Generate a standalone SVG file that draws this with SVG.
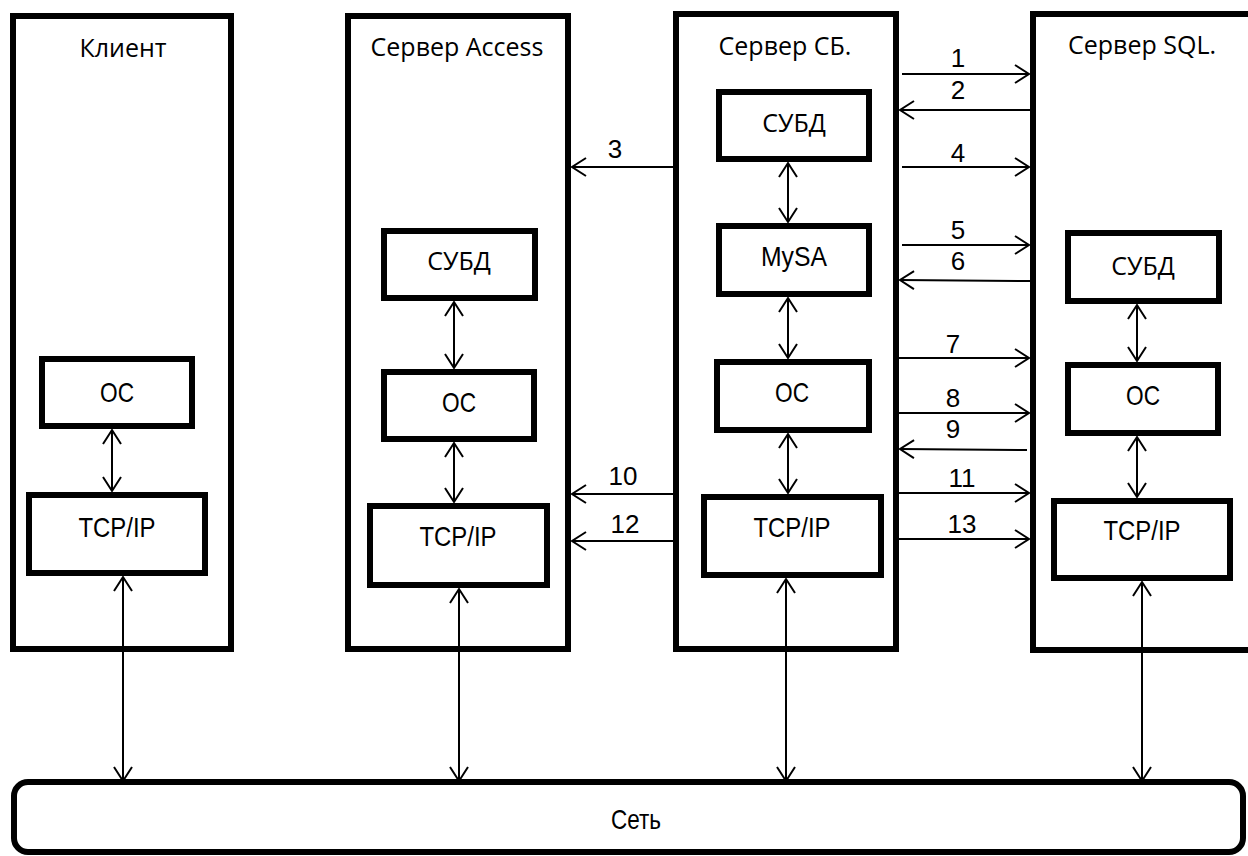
<svg xmlns="http://www.w3.org/2000/svg" width="1248" height="856" viewBox="0 0 1248 856">
<style>
.outer{fill:#fff;stroke:#000;stroke-width:6}
.inner{fill:#fff;stroke:#000;stroke-width:6}
.hdr{font-family:"Open Sans","Noto Sans",sans-serif;font-size:25px;text-anchor:middle;fill:#000}
.cnd{font-family:"Liberation Sans",Arial,sans-serif;font-size:28px;text-anchor:middle;fill:#000}
.num{font-family:"Liberation Sans",Arial,sans-serif;font-size:26px;text-anchor:middle;fill:#000}
.c{fill:none;stroke:#000;stroke-width:2}
.one{marker-end:url(#ah)}
.two{marker-start:url(#ah);marker-end:url(#ah)}
</style>
<defs>
<marker id="ah" viewBox="-16 -11 18 22" refX="0" refY="0" markerWidth="18" markerHeight="22" markerUnits="userSpaceOnUse" orient="auto-start-reverse">
<path d="M-14,-9 L0,0 L-14,9" fill="none" stroke="#000" stroke-width="2"/>
</marker>
</defs>
<rect width="1248" height="856" fill="#fff"/>

<g id="client">
<rect class="outer" x="13" y="16" width="218" height="633"/>
<text class="hdr" x="123" y="57">Клиент</text>
</g>
<g id="client-os">
<rect class="inner" x="42" y="359" width="150" height="67"/>
<text class="cnd" x="117" y="402" textLength="34" lengthAdjust="spacingAndGlyphs">ОС</text>
</g>
<g id="client-tcp">
<rect class="inner" x="29" y="495" width="176" height="78"/>
<text class="cnd" x="117" y="537" textLength="77" lengthAdjust="spacingAndGlyphs">TCP/IP</text>
</g>

<g id="access">
<rect class="outer" x="348" y="16" width="220" height="633"/>
<text class="hdr" x="457" y="56">Сервер Access</text>
</g>
<g id="access-dbms">
<rect class="inner" x="384" y="231" width="151" height="67"/>
<text class="hdr" x="459" y="270">СУБД</text>
</g>
<g id="access-os">
<rect class="inner" x="384" y="372" width="150" height="67"/>
<text class="cnd" x="459" y="412" textLength="34" lengthAdjust="spacingAndGlyphs">ОС</text>
</g>
<g id="access-tcp">
<rect class="inner" x="370" y="506" width="177" height="79"/>
<text class="cnd" x="458" y="546" textLength="77" lengthAdjust="spacingAndGlyphs">TCP/IP</text>
</g>

<g id="sb">
<rect class="outer" x="676" y="14" width="220" height="635"/>
<text class="hdr" x="785" y="55">Сервер СБ.</text>
</g>
<g id="sb-dbms">
<rect class="inner" x="719" y="92" width="150" height="67"/>
<text class="hdr" x="794" y="132">СУБД</text>
</g>
<g id="sb-mysa">
<rect class="inner" x="719" y="226" width="150" height="68"/>
<text class="cnd" x="794" y="266" textLength="66" lengthAdjust="spacingAndGlyphs">MySA</text>
</g>
<g id="sb-os">
<rect class="inner" x="717" y="362" width="152" height="68"/>
<text class="cnd" x="792" y="402" textLength="34" lengthAdjust="spacingAndGlyphs">ОС</text>
</g>
<g id="sb-tcp">
<rect class="inner" x="704" y="497" width="177" height="78"/>
<text class="cnd" x="792" y="537" textLength="77" lengthAdjust="spacingAndGlyphs">TCP/IP</text>
</g>

<g id="sql">
<rect class="outer" x="1033" y="14" width="230" height="636"/>
<text class="hdr" x="1142" y="54">Сервер SQL.</text>
</g>
<g id="sql-dbms">
<rect class="inner" x="1068" y="233" width="151" height="68"/>
<text class="hdr" x="1143" y="275">СУБД</text>
</g>
<g id="sql-os">
<rect class="inner" x="1068" y="365" width="150" height="68"/>
<text class="cnd" x="1143" y="405" textLength="34" lengthAdjust="spacingAndGlyphs">ОС</text>
</g>
<g id="sql-tcp">
<rect class="inner" x="1054" y="501" width="176" height="77"/>
<text class="cnd" x="1142" y="540" textLength="77" lengthAdjust="spacingAndGlyphs">TCP/IP</text>
</g>

<g id="network">
<rect class="outer" x="14" y="782" width="1229" height="70" rx="14" ry="14"/>
<text class="cnd" x="636" y="829" textLength="50" lengthAdjust="spacingAndGlyphs">Сеть</text>
</g>

<g id="connectors">
<line class="c two" x1="112" y1="430" x2="112" y2="491"/>
<line class="c two" x1="123" y1="577" x2="123" y2="781"/>
<line class="c two" x1="454" y1="302" x2="454" y2="368"/>
<line class="c two" x1="454" y1="443" x2="454" y2="502"/>
<line class="c two" x1="459" y1="589" x2="459" y2="781"/>
<line class="c two" x1="788" y1="163" x2="788" y2="222"/>
<line class="c two" x1="788" y1="298" x2="788" y2="358"/>
<line class="c two" x1="788" y1="434" x2="788" y2="493"/>
<line class="c two" x1="786" y1="579" x2="786" y2="781"/>
<line class="c two" x1="1137" y1="305" x2="1137" y2="361"/>
<line class="c two" x1="1137" y1="437" x2="1137" y2="497"/>
<line class="c two" x1="1142" y1="582" x2="1142" y2="781"/>
<line class="c one" x1="902" y1="74" x2="1029" y2="74"/>
<line class="c one" x1="1030" y1="110" x2="900" y2="110"/>
<line class="c one" x1="902" y1="167" x2="1029" y2="167"/>
<line class="c one" x1="902" y1="245" x2="1029" y2="245"/>
<line class="c one" x1="1030" y1="281" x2="900" y2="280"/>
<line class="c one" x1="899" y1="358" x2="1029" y2="358"/>
<line class="c one" x1="899" y1="413" x2="1029" y2="413"/>
<line class="c one" x1="1027" y1="450" x2="900" y2="449"/>
<line class="c one" x1="899" y1="493" x2="1029" y2="493"/>
<line class="c one" x1="899" y1="539" x2="1029" y2="539"/>
<line class="c one" x1="673" y1="167" x2="572" y2="167"/>
<line class="c one" x1="673" y1="494" x2="572" y2="494"/>
<line class="c one" x1="673" y1="541" x2="572" y2="541"/>
<text class="num" x="958" y="67">1</text>
<text class="num" x="958" y="99">2</text>
<text class="num" x="958" y="162">4</text>
<text class="num" x="958" y="239">5</text>
<text class="num" x="958" y="270">6</text>
<text class="num" x="953" y="353">7</text>
<text class="num" x="953" y="407">8</text>
<text class="num" x="953" y="438">9</text>
<text class="num" x="962" y="487">11</text>
<text class="num" x="962" y="533">13</text>
<text class="num" x="615" y="158">3</text>
<text class="num" x="623" y="485">10</text>
<text class="num" x="625" y="533">12</text>
</g>
</svg>
